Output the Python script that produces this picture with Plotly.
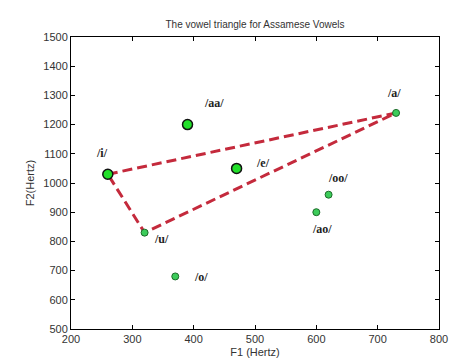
import plotly.graph_objects as go

# Data
vowels = ["/i/", "/aa/", "/e/", "/u/", "/o/", "/a/", "/oo/", "/ao/"]
f1 = [260, 390, 470, 320, 370, 730, 620, 600]
f2 = [1030, 1200, 1050, 830, 680, 1240, 960, 900]
triangle_vowels = ["/i/", "/a/", "/u/", "/i/"]
x_ticks = [200, 300, 400, 500, 600, 700, 800]
y_ticks = [500, 600, 700, 800, 900, 1000, 1100, 1200, 1300, 1400, 1500]

# Styles
big = {"/i/", "/aa/", "/e/"}
label_offsets = {
    "/i/": (-6, 21), "/aa/": (26, 22), "/e/": (26, 5), "/u/": (17, -6),
    "/o/": (26, -1), "/a/": (-2, 20), "/oo/": (9, 17), "/ao/": (6, -17),
}

idx = {v: i for i, v in enumerate(vowels)}
tx = [f1[idx[v]] for v in triangle_vowels]
ty = [f2[idx[v]] for v in triangle_vowels]

fig = go.Figure()
fig.add_trace(go.Scatter(
    x=tx, y=ty, mode="lines",
    line=dict(color="#c42a3c", width=3, dash="10px,5px"),
    hoverinfo="skip", showlegend=False))

bx = [f1[i] for i, v in enumerate(vowels) if v in big]
by = [f2[i] for i, v in enumerate(vowels) if v in big]
sx = [f1[i] for i, v in enumerate(vowels) if v not in big]
sy = [f2[i] for i, v in enumerate(vowels) if v not in big]

fig.add_trace(go.Scatter(
    x=sx, y=sy, mode="markers",
    marker=dict(size=7, color="#3ccc5a", line=dict(color="#1d6b2a", width=1)),
    showlegend=False))
fig.add_trace(go.Scatter(
    x=bx, y=by, mode="markers",
    marker=dict(size=10, color="#22e02a", line=dict(color="#111111", width=1.5)),
    showlegend=False))

for v, x, y in zip(vowels, f1, f2):
    dx, dy = label_offsets[v]
    fig.add_annotation(
        x=x, y=y, text=f"<b>{v}</b>", showarrow=False,
        xshift=dx, yshift=dy,
        font=dict(family="Liberation Serif", size=12, color="#222222"))

axis_common = dict(
    showgrid=False, zeroline=False, showline=True, linecolor="black",
    linewidth=1, mirror="ticks", ticks="inside", ticklen=4,
    tickcolor="black", tickfont=dict(family="Liberation Sans", size=11, color="#333333"),
)

fig.update_xaxes(range=[200, 800], tickvals=x_ticks,
                 title=dict(text="F1 (Hertz)", font=dict(family="Liberation Sans", size=11, color="#333333"), standoff=4),
                 **axis_common)
fig.update_yaxes(range=[500, 1500], tickvals=y_ticks,
                 title=dict(text="F2(Hertz)", font=dict(family="Liberation Sans", size=11, color="#333333"), standoff=6),
                 **axis_common)

fig.update_layout(
    width=474, height=360,
    margin=dict(l=63, r=43, t=29, b=39),
    paper_bgcolor="white", plot_bgcolor="white",
    title=dict(text="The vowel triangle for Assamese Vowels", x=247/474, xanchor="center",
               y=1 - 16/360, yanchor="middle",
               font=dict(family="Liberation Sans", size=10, color="#333333")),
)

fig.write_html("out.html")
